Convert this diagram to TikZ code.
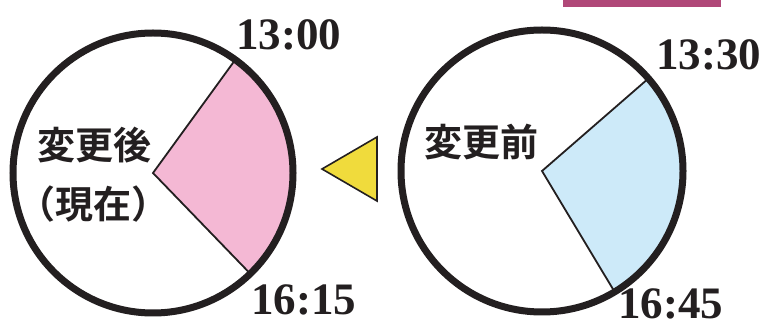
\documentclass[tikz,border=0pt]{standalone}
\usepackage{fontspec}
\setmainfont{Liberation Serif}
\newfontfamily\cjk{Noto Sans CJK JP}[BoldFont={* Bold}]
\definecolor{ink}{HTML}{231F20}
\definecolor{pinkfill}{HTML}{F4B8D4}
\definecolor{bluefill}{HTML}{CDEAF9}
\definecolor{triyellow}{HTML}{F0DB3C}
\definecolor{barmag}{HTML}{B04878}
\begin{document}
\begin{tikzpicture}[x=1pt,y=1pt,
  rim/.style={draw=ink,line width=7pt},
  wedge/.style={draw=ink,line width=1.8pt,line join=miter},
  timelbl/.style={inner sep=0pt,anchor=base west,font=\fontsize{45}{45}\selectfont\bfseries,text=ink},
  jplbl/.style={inner sep=0pt,font=\cjk\bfseries\fontsize{38}{38}\selectfont,text=ink}]
\useasboundingbox (0,0) rectangle (763,329);
% magenta bar
\fill[barmag] (563,322) rectangle (721,329);
% left clock
\coordinate (lc) at (153,156);
\filldraw[wedge,fill=pinkfill] (lc) -- ++(54:140) arc[start angle=54,end angle=-46,radius=140] -- cycle;
\draw[rim] (lc) circle[radius=140];
% right clock
\coordinate (rc) at (542,158);
\filldraw[wedge,fill=bluefill] (rc) -- ++(41:141) arc[start angle=41,end angle=-59,radius=141] -- cycle;
\draw[rim] (rc) circle[radius=141];
% triangle
\filldraw[draw=ink,line width=1.6pt,fill=triyellow,line join=miter] (322,160) -- (377,192) -- (377,128) -- cycle;
% labels
\node[timelbl] (t1) at (236,279) {13:00};
\node[timelbl] (t2) at (251,14) {16:15};
\node[timelbl] (t3) at (656,259) {13:30};
\node[timelbl] (t4) at (618,10) {16:45};
\node[jplbl] (j1) at (94.5,183.5) {変更後};
\node[jplbl] (j2) at (93,124.5) {（現在）};
\node[jplbl] (j3) at (481.5,186.5) {変更前};
\end{tikzpicture}
\end{document}
